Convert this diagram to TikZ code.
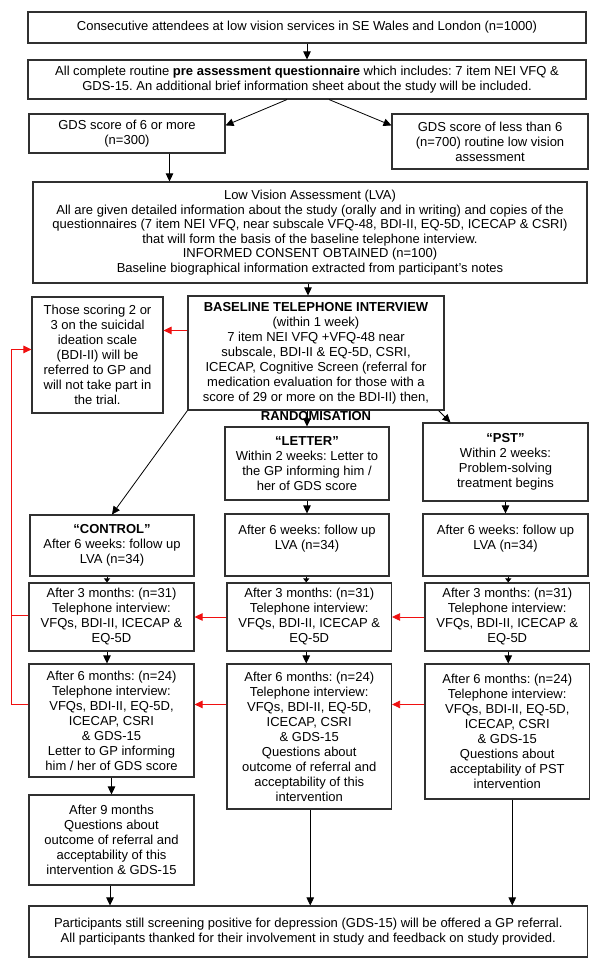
\documentclass[tikz,border=0pt]{standalone}
\usepackage{fontspec}
\setmainfont{Liberation Sans}
\usetikzlibrary{arrows.meta,calc}
\definecolor{boxcol}{HTML}{303030}
\definecolor{redline}{HTML}{F01010}
\frenchspacing
\begin{document}
\begin{tikzpicture}[x=1pt,y=-1pt,
  box/.style={draw=boxcol, line width=1.1pt, align=center, inner sep=0pt, font=\fontsize{13}{15}\selectfont},
  arr/.style={-{Triangle[length=8pt,width=7.5pt]}, line width=0.8pt, black},
  sarr/.style={-{Triangle[length=4pt,width=6pt]}, line width=0.8pt, black},
  redarr/.style={-{Triangle[length=8pt,width=7.5pt]}, line width=0.8pt, redline},
  redln/.style={line width=0.8pt, redline}]
\useasboundingbox (0,0) rectangle (600,968);
\fill[white] (0,0) rectangle (600,968);

% boxes
\node[box, minimum width=558pt, minimum height=31pt] (top) at (307,27.5)
  {Consecutive attendees at low vision services in SE Wales and London (n=1000)};
\node[box, minimum width=558pt, minimum height=39pt] (pre) at (307,79.5)
  {All complete routine \textbf{pre assessment questionnaire} which includes: 7 item NEI VFQ \&\\GDS-15. An additional brief information sheet about the study will be included.};
\node[box, minimum width=196pt, minimum height=39pt] (gds6) at (127,133.5)
  {GDS score of 6 or more\\(n=300)};
\node[box, minimum width=196pt, minimum height=55pt] (gdsl) at (490,141.5)
  {GDS score of less than 6\\(n=700) routine low vision\\assessment};
\node[box, minimum width=554pt, minimum height=101pt, font=\fontsize{13}{14.5}\selectfont] (lva) at (310,232.5)
  {Low Vision Assessment (LVA)\\All are given detailed information about the study (orally and in writing) and copies of the\\questionnaires (7 item NEI VFQ, near subscale VFQ-48, BDI-II, EQ-5D, ICECAP \& CSRI)\\that will form the basis of the baseline telephone interview.\\INFORMED CONSENT OBTAINED (n=100)\\Baseline biographical information extracted from participant’s notes};
\node[box, minimum width=131pt, minimum height=116pt] (those) at (97.5,355)
  {Those scoring 2 or\\3 on the suicidal\\ideation scale\\(BDI-II) will be\\referred to GP and\\will not take part in\\the trial.};
\node[box, minimum width=256pt, minimum height=114pt] (base) at (316,353)
  {\textbf{BASELINE TELEPHONE INTERVIEW}\\(within 1 week)\\7 item NEI VFQ +VFQ-48 near\\subscale, BDI-II \& EQ-5D, CSRI,\\ICECAP, Cognitive Screen (referral for\\medication evaluation for those with a\\score of 29 or more on the BDI-II) then,};
\node[font=\fontsize{13}{15}\selectfont\bfseries, inner sep=0pt] (rand) at (316,416) {RANDOMISATION};
\node[box, minimum width=164pt, minimum height=73pt] (letter) at (307,463.5)
  {\textbf{“LETTER”}\\Within 2 weeks: Letter to\\the GP informing him /\\her of GDS score};
\node[box, minimum width=165pt, minimum height=78pt] (pst) at (505.5,462)
  {\textbf{“PST”}\\Within 2 weeks:\\Problem-solving\\treatment begins};
\node[box, minimum width=164pt, minimum height=61pt] (ctrl6) at (112,545.5)
  {\textbf{“CONTROL”}\\After 6 weeks: follow up\\LVA (n=34)};
\node[box, minimum width=164pt, minimum height=62pt] (let6) at (307,545)
  {After 6 weeks: follow up\\LVA (n=34)\\\mbox{}};
\node[box, minimum width=165pt, minimum height=62pt] (pst6) at (505.5,545)
  {After 6 weeks: follow up\\LVA (n=34)\\\mbox{}};
\node[box, minimum width=165pt, minimum height=68pt] (ctrl3) at (111.5,617)
  {After 3 months: (n=31)\\Telephone interview:\\VFQs, BDI-II, ICECAP \&\\EQ-5D};
\node[box, minimum width=164.5pt, minimum height=68pt] (let3) at (309.25,617)
  {After 3 months: (n=31)\\Telephone interview:\\VFQs, BDI-II, ICECAP \&\\EQ-5D};
\node[box, minimum width=164.5pt, minimum height=68pt] (pst3) at (507.25,617)
  {After 3 months: (n=31)\\Telephone interview:\\VFQs, BDI-II, ICECAP \&\\EQ-5D};
\node[box, minimum width=165pt, minimum height=113pt] (ctrl6m) at (111.5,720.5)
  {After 6 months: (n=24)\\Telephone interview:\\VFQs, BDI-II, EQ-5D,\\ICECAP, CSRI\\\& GDS-15\\Letter to GP informing\\him / her of GDS score};
\node[box, minimum width=164.5pt, minimum height=145pt] (let6m) at (309.25,736.5)
  {After 6 months: (n=24)\\Telephone interview:\\VFQs, BDI-II, EQ-5D,\\ICECAP, CSRI\\\& GDS-15\\Questions about\\outcome of referral and\\acceptability of this\\intervention};
\node[box, minimum width=164.5pt, minimum height=135pt] (pst6m) at (507.25,731.5)
  {After 6 months: (n=24)\\Telephone interview:\\VFQs, BDI-II, EQ-5D,\\ICECAP, CSRI\\\& GDS-15\\Questions about\\acceptability of PST\\intervention};
\node[box, minimum width=165pt, minimum height=90pt] (nine) at (111.5,840)
  {After 9 months\\Questions about\\outcome of referral and\\acceptability of this\\intervention \& GDS-15};
\node[box, minimum width=558.5pt, minimum height=51pt] (final) at (308.25,931.5)
  {Participants still screening positive for depression (GDS-15) will be offered a GP referral.\\All participants thanked for their involvement in study and feedback on study provided.};

% black connectors
\draw[arr] (top.south) -- (pre.north);
\draw[arr] ([xshift=-20pt]pre.south) -- ([yshift=-12pt]gds6.north east);
\draw[arr] ([xshift=22pt]pre.south) -- ([yshift=-12pt]gdsl.north west);
\coordinate (g6out) at ([xshift=42.5pt]gds6.south);
\draw[arr] (g6out) -- (g6out |- lva.north);
\coordinate (bin) at ([xshift=-8pt]base.north);
\draw[arr] (bin |- lva.south) -- (bin);
\draw[arr] (letter.north |- base.south) -- (letter.north);
\draw[arr] ([xshift=-6pt]base.south east) -- ([xshift=28pt]pst.north west);
\draw[arr] (base.south west) -- (ctrl6.north);
\draw[arr] (letter.south) -- (let6.north);
\draw[arr] (pst.south) -- (pst6.north);
\coordinate (cc) at ([xshift=-4.5pt]ctrl3.north);
\draw[sarr] (cc |- ctrl6.south) -- (cc);
\draw[arr] (cc |- ctrl3.south) -- (cc |- ctrl6m.north);
\coordinate (lc) at ([xshift=-3pt]let3.north);
\draw[sarr] (lc |- let6.south) -- (lc);
\draw[arr] (lc |- let3.south) -- (lc |- let6m.north);
\coordinate (pc) at ([xshift=1pt]pst3.north);
\draw[sarr] (pc |- pst6.south) -- (pc);
\draw[arr] (pc |- pst3.south) -- (pc |- pst6m.north);
\draw[arr] (ctrl6m.south) -- (ctrl6m.south |- nine.north);
\coordinate (nc) at ([xshift=-1.5pt]nine.south);
\draw[arr] (nc) -- (nc |- final.north);
\coordinate (lf) at ([xshift=1pt]let6m.south);
\draw[arr] (lf) -- (lf |- final.north);
\coordinate (pf) at ([xshift=5pt]pst6m.south);
\draw[arr] (pf) -- (pf |- final.north);

% red connectors
\coordinate (rb) at ([yshift=-35pt]base.north west);
\draw[redarr] (rb) -- (rb -| those.east);
\draw[redarr] (let3.west) -- (ctrl3.east);
\draw[redarr] (pst3.west) -- (let3.east);
\coordinate (r6) at ([yshift=-41pt]ctrl6m.north west);
\draw[redarr] (let6m.west |- r6) -- (ctrl6m.east |- r6);
\draw[redarr] (pst6m.west |- r6) -- (let6m.east |- r6);
\coordinate (rt) at ([yshift=-53pt]those.north west);
\draw[redarr] (r6) -- ++(-17.5,0) |- (rt);
\draw[redln] ([yshift=-33pt]ctrl3.north west) -- ++(-17.5,0);
\end{tikzpicture}
\end{document}
